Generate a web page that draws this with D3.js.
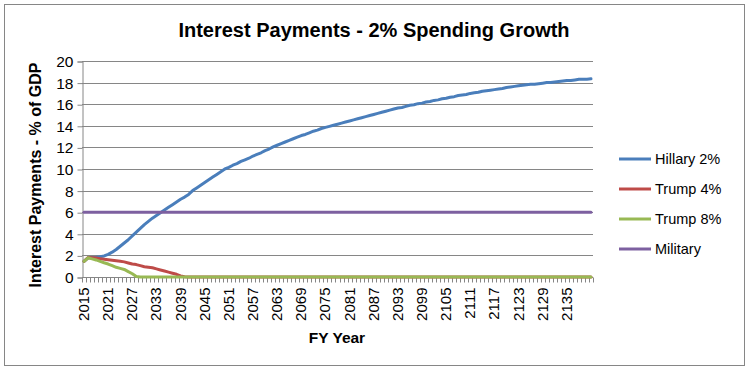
<!DOCTYPE html>
<html><head><meta charset="utf-8">
<script src="https://cdn.jsdelivr.net/npm/d3@7"></script>
<style>html,body{margin:0;padding:0;background:#fff;}svg{display:block;font-family:"Liberation Sans",Arial,sans-serif;}</style>
</head><body>
<script>
const firstYear = 2015;
const years = d3.range(2015, 2142);
const yTicks = [0,2,4,6,8,10,12,14,16,18,20];
const hillary = [
1.45,1.78,1.80,1.82,1.88,1.95,2.10,2.30,2.55,2.85,
3.15,3.45,3.80,4.15,4.50,4.85,5.15,5.45,5.70,5.95,
6.20,6.45,6.70,6.95,7.20,7.40,7.65,8.00,8.25,8.50,
8.75,9.00,9.25,9.50,9.75,10.00,10.15,10.35,10.50,10.70,
10.85,11.00,11.20,11.35,11.50,11.70,11.85,12.05,12.20,12.35,
12.50,12.65,12.80,12.95,13.10,13.20,13.35,13.50,13.60,13.75,
13.85,13.95,14.05,14.15,14.25,14.35,14.45,14.55,14.65,14.75,
14.85,14.95,15.05,15.15,15.25,15.35,15.45,15.55,15.65,15.70,
15.80,15.90,15.95,16.05,16.10,16.20,16.25,16.35,16.40,16.50,
16.55,16.65,16.70,16.80,16.85,16.90,17.00,17.05,17.10,17.20,
17.25,17.30,17.35,17.40,17.45,17.55,17.60,17.65,17.70,17.75,
17.80,17.85,17.85,17.90,17.95,18.00,18.00,18.05,18.10,18.15,
18.20,18.20,18.25,18.30,18.30,18.32,18.35];
const trump4Head = [1.45,1.80,1.78,1.75,1.70,1.65,1.60,1.55,1.50,1.45,
1.40,1.30,1.20,1.15,1.05,0.95,0.90,0.85,0.75,0.65,
0.55,0.45,0.35,0.25,0.10,0.02];
const trump8Head = [1.45,1.78,1.68,1.58,1.45,1.32,1.20,1.05,0.90,0.80,
0.70,0.50,0.30,0.05];
const trump4 = years.map((y,i)=> i < trump4Head.length ? trump4Head[i] : 0);
const trump8 = years.map((y,i)=> i < trump8Head.length ? trump8Head[i] : 0);
const military = years.map(()=>6);
const seriesNames = ["Hillary 2%","Trump 4%","Trump 8%","Military"];
const seriesColors = ["#4A7EBB","#BE4B48","#98B954","#7D60A0"];
const seriesData = [hillary, trump4, trump8, military];

const W=749,H=374;
const svg=d3.select("body").append("svg").attr("width",W).attr("height",H);
svg.append("rect").attr("x",0).attr("y",0).attr("width",W).attr("height",H).attr("fill","#fff");
svg.append("rect").attr("x",4.5).attr("y",4.5).attr("width",740).attr("height",361)
  .attr("fill","none").attr("stroke","#868686").attr("stroke-width",1);

const L=82,R=593,T=61,B=277;
const x=d3.scaleBand().domain(years).range([L,R]).paddingInner(0).paddingOuter(0);
const y=d3.scaleLinear().domain([0,20]).range([B,T]);

// gridlines
svg.append("g").selectAll("line").data(yTicks.filter(d=>d>0)).join("line")
  .attr("x1",L).attr("x2",R).attr("y1",d=>Math.round(y(d))+0.5).attr("y2",d=>Math.round(y(d))+0.5)
  .attr("stroke","#868686").attr("stroke-width",1);

// y axis
const yAxis=d3.axisLeft(y).tickValues(yTicks).tickSize(5).tickPadding(4);
const gy=svg.append("g").attr("transform",`translate(${L+0.5},0.5)`).call(yAxis);
gy.select(".domain").attr("stroke","#868686");
gy.selectAll(".tick line").attr("stroke","#868686");
gy.selectAll("text").attr("font-size",15.5).attr("fill","#000").attr("font-family","Liberation Sans, Arial, sans-serif");

// x axis
const gx=svg.append("g").attr("transform",`translate(0,${B+0.5})`);
gx.append("line").attr("x1",L).attr("x2",R).attr("stroke","#868686");
const bounds=years.map(d=>x(d)).concat([R]);
gx.selectAll("line.tk").data(bounds).join("line").attr("class","tk")
  .attr("x1",d=>Math.round(d)+0.5).attr("x2",d=>Math.round(d)+0.5).attr("y1",0).attr("y2",5)
  .attr("stroke","#868686");
const labYears=years.filter((d,i)=>i%6===0 && i<=120);
gx.selectAll("text").data(labYears).join("text")
  .attr("transform",d=>`translate(${x(d)+x.bandwidth()/2+5},10) rotate(-90)`)
  .attr("text-anchor","end").attr("font-size",15).attr("fill","#000").text(d=>d);

// lines
const line=d3.line().x((d,i)=>x(years[i])+x.bandwidth()/2).y(d=>y(d));
seriesData.forEach((s,k)=>{
  svg.append("path").datum(s).attr("d",line).attr("fill","none")
    .attr("stroke",seriesColors[k]).attr("stroke-width",3).attr("stroke-linejoin","round").attr("stroke-linecap","round");
});

// titles
svg.append("text").attr("x",374).attr("y",37).attr("text-anchor","middle")
  .attr("font-size",20).attr("font-weight","bold").text("Interest Payments - 2% Spending Growth");
svg.append("text").attr("transform","translate(41,175) rotate(-90)").attr("text-anchor","middle")
  .attr("font-size",16).attr("font-weight","bold").text("Interest Payments - % of GDP");
svg.append("text").attr("x",337).attr("y",343).attr("text-anchor","middle")
  .attr("font-size",15.5).attr("font-weight","bold").text("FY Year");

// legend
const lg=svg.append("g");
const ly=[159,189,219,249];
seriesNames.forEach((n,k)=>{
  lg.append("line").attr("x1",619).attr("x2",651).attr("y1",ly[k]).attr("y2",ly[k])
    .attr("stroke",seriesColors[k]).attr("stroke-width",3);
  lg.append("text").attr("x",655).attr("y",ly[k]+5).attr("font-size",14.5).text(n);
});
</script>
</body></html>
